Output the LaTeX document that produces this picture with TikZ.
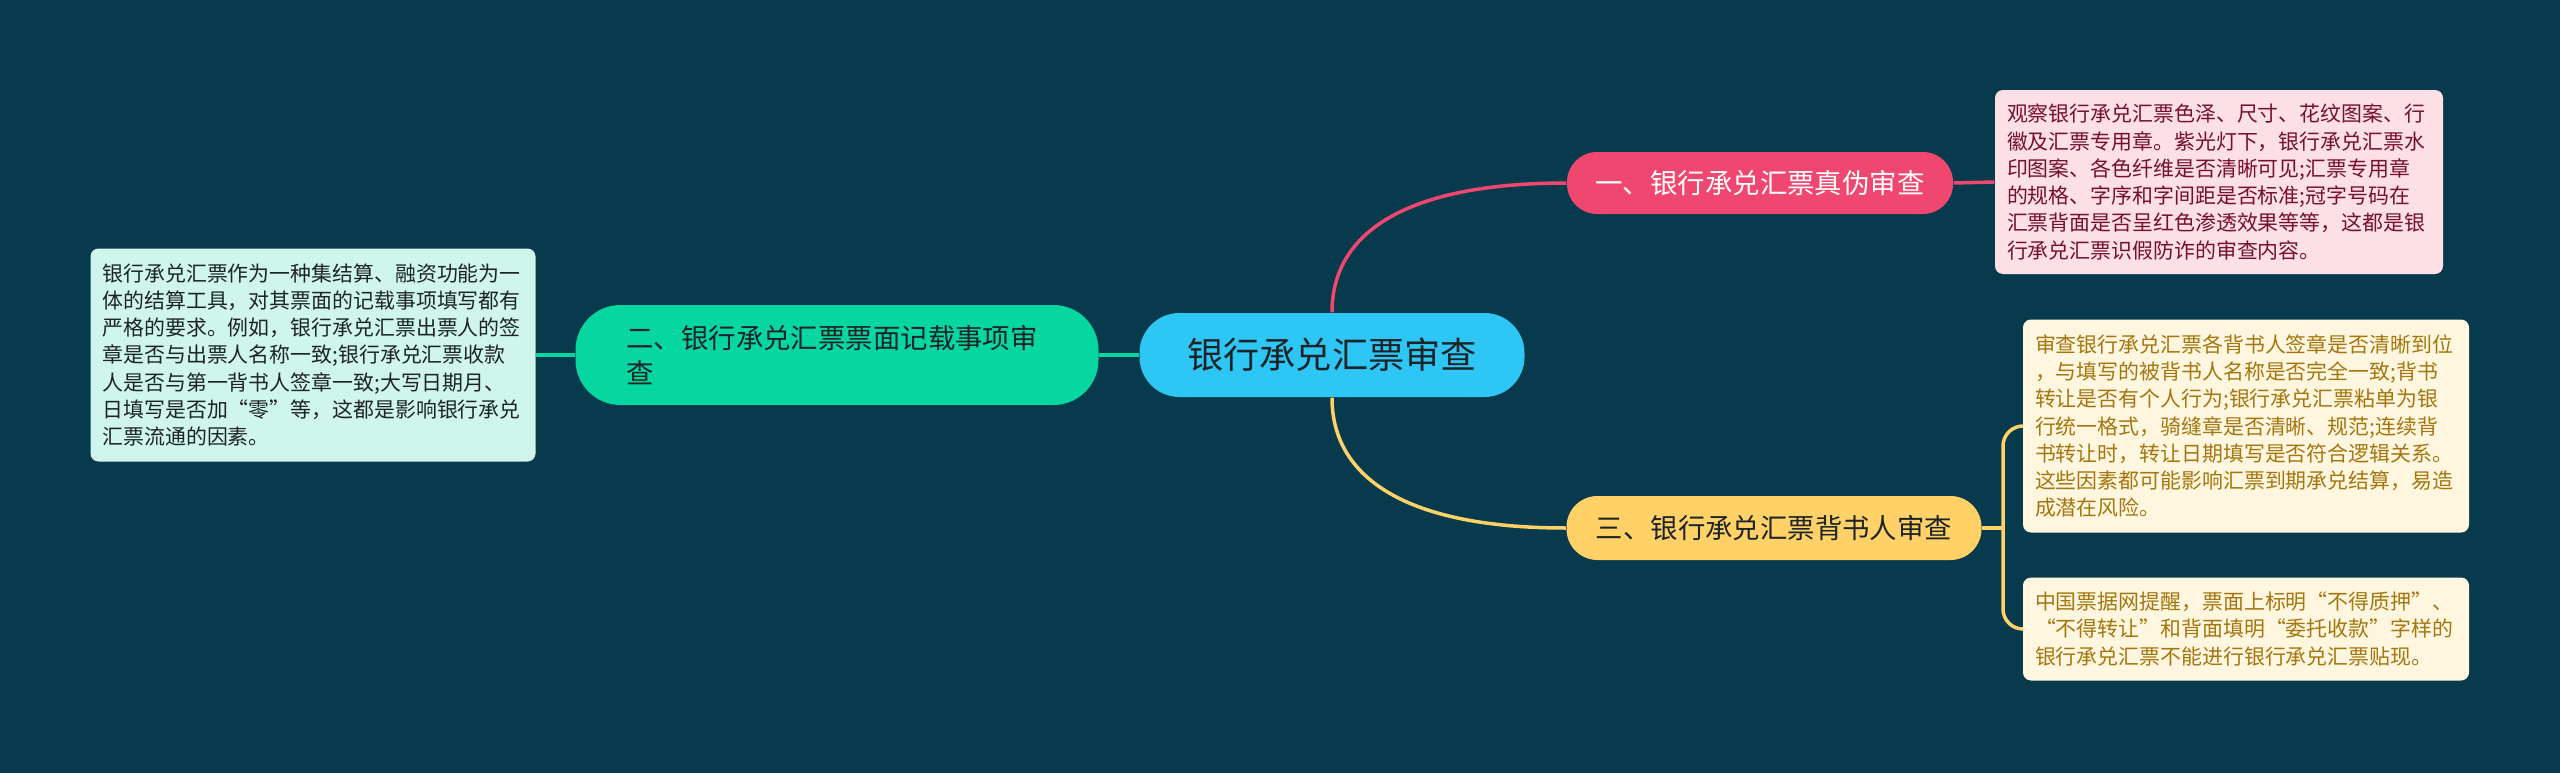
\documentclass[tikz,border=0pt]{standalone}
\usepackage{fontspec}
\setmainfont{Noto Sans CJK SC}
\usepackage{tikz}
\definecolor{BgColor}{RGB}{7,58,76}
\definecolor{RootColor}{RGB}{46,198,245}
\definecolor{PinkColor}{RGB}{239,71,111}
\definecolor{GreenColor}{RGB}{6,214,160}
\definecolor{YellowColor}{RGB}{255,209,102}
\definecolor{PinkLeaf}{RGB}{252,224,230}
\definecolor{GreenLeaf}{RGB}{208,246,236}
\definecolor{YellowLeaf}{RGB}{255,246,224}
\definecolor{DarkText}{RGB}{28,36,40}
\definecolor{PinkText}{RGB}{118,16,46}
\definecolor{YellowText}{RGB}{164,118,14}

\begin{document}
\begin{tikzpicture}[x=0.1mm, y=-0.1mm,
    topic/.style={inner sep=0pt, text=DarkText, font={\fontsize{7.8pt}{10.2pt}\selectfont}},
    leaf/.style={rounded corners=0.8mm, inner xsep=1.2mm, inner ysep=0pt, align=left, text width=#1, font={\fontsize{5.95pt}{7.75pt}\selectfont}},
    link/.style={line width=0.35mm}]
        \fill[BgColor] (0,0) rectangle (2560,773);
        \useasboundingbox (0,0) rectangle (2560,773);
        \node[topic, fill=RootColor, rounded corners=4mm, minimum width=38.5mm, minimum height=8.4mm,
              font={\fontsize{10.3pt}{12pt}\selectfont}] (root) at (1332,355) {银行承兑汇票审查};
        \node[topic, fill=PinkColor, text=white, rounded corners=3mm, minimum width=38.6mm, minimum height=6.2mm] (real) at (1760,183) {一、银行承兑汇票真伪审查};
        \node[topic, fill=GreenColor, rounded corners=4.5mm, minimum width=52.3mm, minimum height=10mm,
              inner xsep=5.1mm, text width=42.1mm, align=left] (face) at (837,355) {二、银行承兑汇票票面记载事项审\\查};
        \node[topic, fill=YellowColor, rounded corners=3.1mm, minimum width=41.5mm, minimum height=6.4mm] (back) at (1774,528) {三、银行承兑汇票背书人审查};
        \node[leaf=42.4mm, fill=PinkLeaf, text=PinkText, minimum height=18.4mm] (realtxt) at (2219,182) {观察银行承兑汇票色泽、尺寸、花纹图案、行\\徽及汇票专用章。紫光灯下，银行承兑汇票水\\印图案、各色纤维是否清晰可见;汇票专用章\\的规格、字序和字间距是否标准;冠字号码在\\汇票背面是否呈红色渗透效果等等，这都是银\\行承兑汇票识假防诈的审查内容。};
        \node[leaf=42.1mm, fill=GreenLeaf, text=DarkText, minimum height=21.3mm] (facetxt) at (313,355) {银行承兑汇票作为一种集结算、融资功能为一\\体的结算工具，对其票面的记载事项填写都有\\严格的要求。例如，银行承兑汇票出票人的签\\章是否与出票人名称一致;银行承兑汇票收款\\人是否与第一背书人签章一致;大写日期月、\\日填写是否加“零”等，这都是影响银行承兑\\汇票流通的因素。};
        \node[leaf=42.2mm, fill=YellowLeaf, text=YellowText, minimum height=21.3mm] (backtxt) at (2246,426) {审查银行承兑汇票各背书人签章是否清晰到位\\，与填写的被背书人名称是否完全一致;背书\\转让是否有个人行为;银行承兑汇票粘单为银\\行统一格式，骑缝章是否清晰、规范;连续背\\书转让时，转让日期填写是否符合逻辑关系。\\这些因素都可能影响汇票到期承兑结算，易造\\成潜在风险。};
        \node[leaf=42.2mm, fill=YellowLeaf, text=YellowText, minimum height=10.3mm] (notetxt) at (2246,629) {中国票据网提醒，票面上标明“不得质押”、\\“不得转让”和背面填明“委托收款”字样的\\银行承兑汇票不能进行银行承兑汇票贴现。};
        \coordinate (fork) at (2003,528);
        \draw[link, PinkColor] (root.north) .. controls +(0,-80) and +(-160,0) .. (real.west);
        \draw[link, YellowColor] (root.south) .. controls +(0,80) and +(-160,0) .. (back.west);
        \draw[link, GreenColor] (root.west) -- (face.east);
        \draw[link, GreenColor] (face.west) -- (facetxt.east);
        \draw[link, PinkColor] (real.east) -- (realtxt.west);
        \draw[link, YellowColor] (back.east) -- (fork);
        \draw[link, YellowColor, rounded corners=2mm] (fork) |- (backtxt.west);
        \draw[link, YellowColor, rounded corners=2mm] (fork) |- (notetxt.west);
      \end{tikzpicture}
\end{document}
